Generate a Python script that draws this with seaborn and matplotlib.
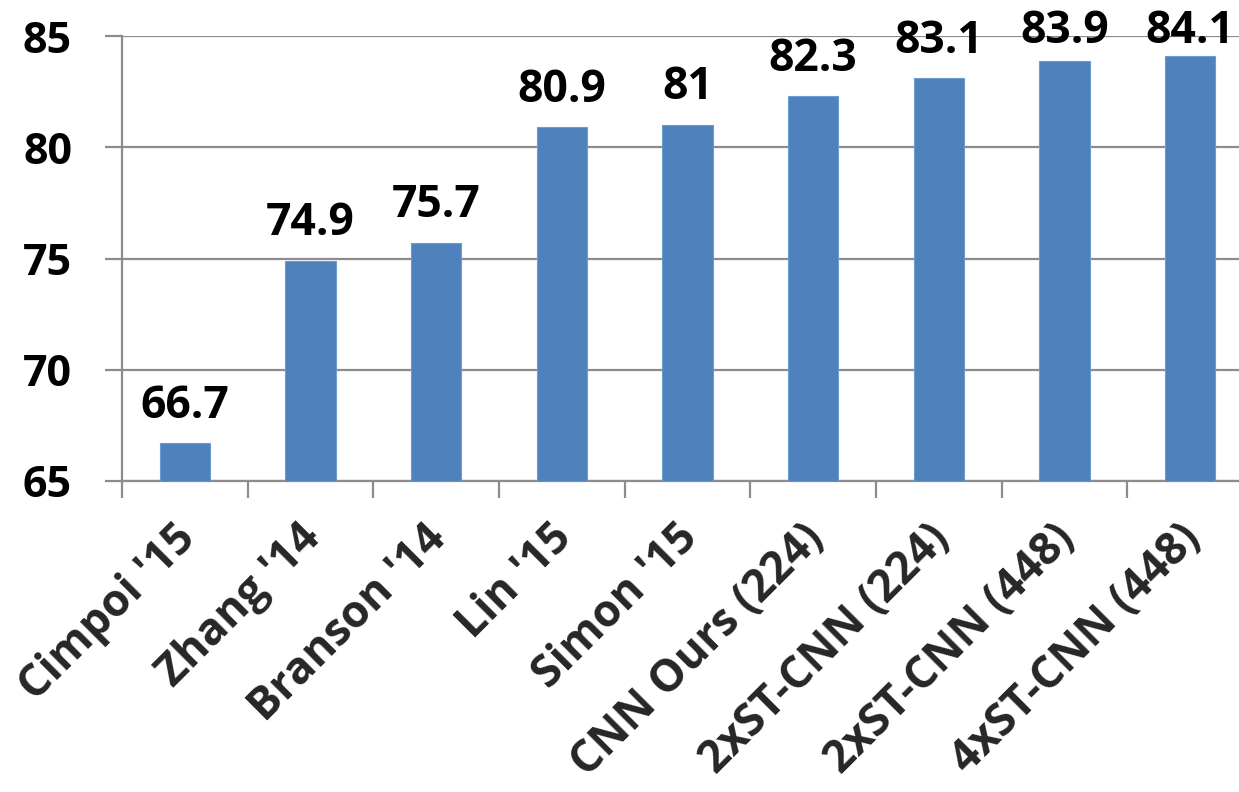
import matplotlib
matplotlib.use("Agg")
import matplotlib.pyplot as plt
from matplotlib.transforms import ScaledTranslation
import seaborn as sns
import pandas as pd
import numpy as np

methods = ["Cimpoi '15", "Zhang '14", "Branson '14", "Lin '15", "Simon '15",
           "CNN Ours (224)", "2xST-CNN (224)", "2xST-CNN (448)", "4xST-CNN (448)"]
accuracy = [66.7, 74.9, 75.7, 80.9, 81.0, 82.3, 83.1, 83.9, 84.1]
value_labels = ["66.7", "74.9", "75.7", "80.9", "81", "82.3", "83.1", "83.9", "84.1"]
y_ticks = [65, 70, 75, 80, 85]

sns.set_theme(style="white")
plt.rcParams["font.family"] = ["Open Sans", "DejaVu Sans"]
plt.rcParams["font.weight"] = "bold"

df = pd.DataFrame({"method": methods, "accuracy": accuracy})

fig = plt.figure(figsize=(12.39, 7.92), dpi=100)
ax = fig.add_axes([0.0985, 0.3927, 0.9128, 0.5618])

bar_color = "#4F81BD"
grid_color = "#8C8C8C"

sns.barplot(data=df, x="method", y="accuracy", color=bar_color, width=0.4,
            saturation=1, ax=ax, edgecolor="#6E9AD0", linewidth=0.8, zorder=3)

ax.set_ylim(65, 85)
ax.set_xlim(-0.5, len(methods) - 0.5)
ax.set_yticks(y_ticks)
ax.set_yticklabels([str(t) for t in y_ticks], fontsize=31, fontweight="bold")
ax.yaxis.grid(True, color=grid_color, linewidth=1.6, zorder=0)
ax.set_axisbelow(True)

for side in ["top", "right"]:
    ax.spines[side].set_visible(False)
for side in ["left", "bottom"]:
    ax.spines[side].set_color(grid_color)
    ax.spines[side].set_linewidth(1.6)

ax.tick_params(axis="y", which="major", length=12, width=1.6, color=grid_color,
               direction="out", pad=24, left=True, labelcolor="black")

# Category separators as minor ticks on the x axis
ax.set_xticks(np.arange(-0.5, len(methods), 1.0), minor=True)
ax.tick_params(axis="x", which="minor", length=12, width=1.6, color=grid_color,
               direction="out", bottom=True)
ax.tick_params(axis="x", which="major", length=0, pad=25)
ax.set_xticks(range(len(methods)))
ax.set_xticklabels(methods, fontsize=32, fontweight="bold", rotation=45,
                   ha="right", va="top", rotation_mode="anchor")
shift = ScaledTranslation(-12 / 100, 0, fig.dpi_scale_trans)
for lbl in ax.get_xticklabels():
    lbl.set_transform(lbl.get_transform() + shift)

ax.set_xlabel("")
ax.set_ylabel("")

# Value labels sit above each bar, kept inside the plotting area near the top
label_gap = 1.15
label_cap = 84.7
for i, (v, lab) in enumerate(zip(accuracy, value_labels)):
    ax.text(i, min(v + label_gap, label_cap), lab, ha="center", va="baseline",
            fontsize=32, fontweight="bold", color="black", clip_on=False)

fig.savefig("out.png", dpi=100)
